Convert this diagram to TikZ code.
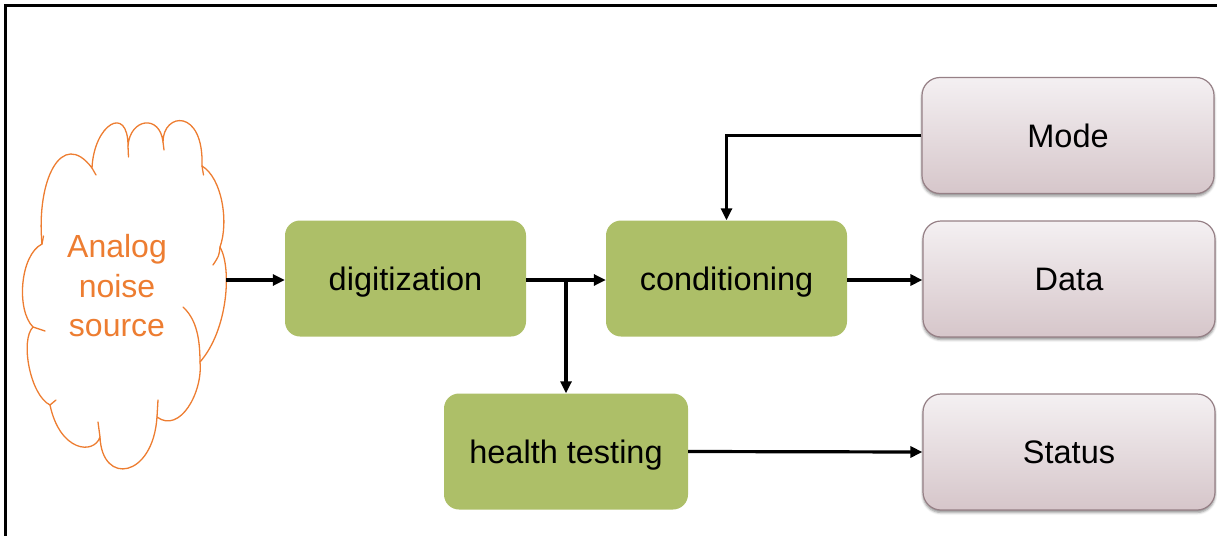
\documentclass[tikz,border=0pt]{standalone}
\usepackage{fontspec}
\setmainfont{Liberation Sans}
\usetikzlibrary{arrows.meta,shadows.blur,calc}

\definecolor{leaf}{RGB}{173,191,104}
\definecolor{noise}{RGB}{237,125,49}
\definecolor{rosetop}{RGB}{244,240,242}
\definecolor{rosebot}{RGB}{214,198,202}
\definecolor{roseedge}{RGB}{150,128,134}

\begin{document}
\begin{tikzpicture}[x=1pt,y=-1pt,
  label font/.style={font=\fontsize{32.5}{39}\selectfont,
    text height=23.3pt, text depth=0pt},
  stage/.style={rectangle, rounded corners=15pt, fill=leaf,
    minimum width=241pt, minimum height=116pt, inner sep=0pt, label font},
  port/.style={rectangle, rounded corners=18pt, draw=roseedge, line width=1.2pt,
    top color=rosetop, bottom color=rosebot,
    minimum width=292pt, minimum height=116pt, inner sep=0pt, label font,
    blur shadow={shadow xshift=0pt, shadow yshift=-2.5pt,
      shadow blur radius=2.5pt, shadow opacity=45}},
  link/.style={line width=3.2pt, line join=miter,
    -{Triangle[length=12pt,width=11pt]}},
  puff/.style={draw=noise, line width=1.3pt, line join=round, line cap=round}
]
\useasboundingbox (0,0) rectangle (1217,535);
\clip (0,0) rectangle (1217,535);

% outer frame (only top and left edges fall inside the page)
\draw[line width=3.2pt, line join=miter] (5.5,560) -- (5.5,5.5) -- (1240,5.5);

% cloud outline, lobe by lobe
\draw[puff] (42,244) .. controls (36,180) and (62,128) .. (92,168)
  .. controls (94,124) and (128,104) .. (128,146)
  .. controls (130,118) and (160,114) .. (163,142)
  .. controls (163,112) and (204,108) .. (202,166)
  .. controls (222,178) and (229,222) .. (220,247)
  .. controls (232,268) and (228,330) .. (200,362)
  .. controls (203,392) and (180,434) .. (157,417)
  .. controls (153,478) and (102,486) .. (100,437)
  .. controls (94,455) and (60,452) .. (50,405)
  .. controls (30,395) and (20,340) .. (33,327)
  .. controls (16,310) and (20,255) .. (42,244) -- cycle;
% inner lobe ends
\draw[puff] (92,168) -- (96,175);
\draw[puff] (128,146) -- (128.5,157);
\draw[puff] (163,142) -- (164,150);
\draw[puff] (202,166) -- (203.5,175);
\draw[puff] (220,247) .. controls (219,256) .. (213,265);
\draw[puff] (200,362) .. controls (200,335) and (195,318) .. (183,307);
\draw[puff] (157,417) -- (158,400);
\draw[puff] (100,437) -- (98,422);
\draw[puff] (50,405) -- (56,400);
\draw[puff] (33,327) -- (45,331);
\draw[puff] (42,244) -- (43.5,236);

\node[text=noise, align=center, font=\fontsize{32}{39.5}\selectfont] (src) at (117,286)
  {Analog\\noise\\source};
\coordinate (srcout) at (226,280);

% processing stages
\node[stage] (dig) at (405.5,278.5) {digitization};
\node[stage] (cond) at (726.5,278.5) {conditioning};
\node[stage, minimum width=244pt] (health) at (566,451.5) {health testing};

% outputs and mode input
\node[port] (mode) at (1068,135.5) {Mode};
\node[port] (data) at (1069,279) {Data};
\node[port] (status) at (1069,452) {Status};

% connectors
\draw[link] (srcout) -- (srcout -| dig.west);
\draw[link] (dig.east |- srcout) -- (cond.west |- srcout);
\coordinate (fork) at (health.north |- srcout);
\draw[link] (fork) -- (health.north);
\draw[link] (mode.west) -| (cond.north);
\draw[link] (cond.east |- srcout) -- (data.west |- srcout);
\draw[link] (health.east) -- (status.west);
\end{tikzpicture}
\end{document}
